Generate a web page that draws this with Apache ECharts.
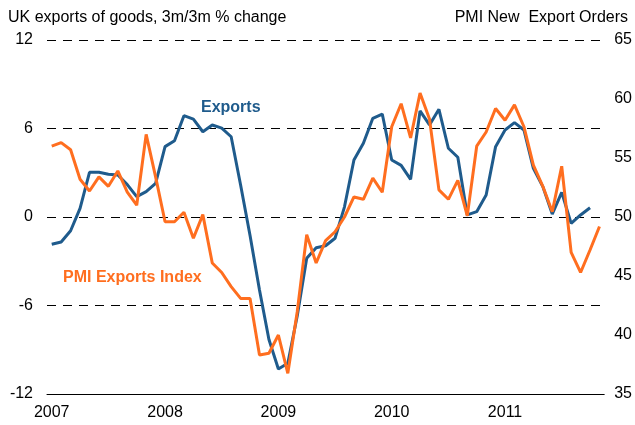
<!DOCTYPE html>
<html>
<head>
<meta charset="utf-8">
<script src="https://cdn.jsdelivr.net/npm/echarts@6/dist/echarts.min.js"></script>
<style>
  html, body { margin: 0; padding: 0; background: #fff; }
  #chart { width: 635px; height: 425px; }
</style>
</head>
<body>
<div id="chart"></div>
<script>
// monthly, Jan 2007 .. Nov 2011
const months = [
  '2007-01','2007-02','2007-03','2007-04','2007-05','2007-06','2007-07','2007-08','2007-09','2007-10','2007-11','2007-12',
  '2008-01','2008-02','2008-03','2008-04','2008-05','2008-06','2008-07','2008-08','2008-09','2008-10','2008-11','2008-12',
  '2009-01','2009-02','2009-03','2009-04','2009-05','2009-06','2009-07','2009-08','2009-09','2009-10','2009-11','2009-12',
  '2010-01','2010-02','2010-03','2010-04','2010-05','2010-06','2010-07','2010-08','2010-09','2010-10','2010-11','2010-12',
  '2011-01','2011-02','2011-03','2011-04','2011-05','2011-06','2011-07','2011-08','2011-09','2011-10','2011-11'
];

// UK exports of goods, 3m/3m % change (left axis)
const exportsGoods = [
  -1.85, -1.7, -0.93, 0.59, 3.03, 3.03, 2.9, 2.85, 2.2, 1.38, 1.72, 2.28,
  4.77, 5.17, 6.87, 6.64, 5.78, 6.24, 6.03, 5.44, 2.17, -1.25, -4.95, -8.3,
  -10.3, -9.92, -6.7, -2.8, -2.08, -1.95, -1.44, 0.69, 3.86, 5.0, 6.69, 6.98,
  3.86, 3.5, 2.55, 7.19, 6.24, 7.3, 4.66, 4.05, 0.14, 0.36, 1.49, 4.77,
  5.9, 6.4, 5.9, 3.3, 2.06, 0.2, 1.67, -0.43, 0.14, 0.63, null
];

// PMI new export orders (right axis)
const pmiExports = [
  56.0, 56.3, 55.7, 53.2, 52.2, 53.4, 52.6, 53.9, 52.1, 51.0, 57.0, 53.4,
  49.6, 49.6, 50.4, 48.2, 50.2, 46.1, 45.3, 44.1, 43.1, 43.1, 38.3, 38.45,
  40.0, 36.75, 42.0, 48.5, 46.1, 48.0, 48.75, 50.0, 51.7, 51.5, 53.3, 52.1,
  57.65, 59.6, 56.7, 60.5, 58.3, 52.3, 51.5, 53.1, 50.1, 56.0, 57.2, 59.2,
  58.2, 59.5, 57.65, 54.4, 52.6, 50.45, 54.3, 47.0, 45.3, 47.2, 49.2
];

const FONT = '"Liberation Sans", Arial, sans-serif';
const BLUE = '#1f5b8c';
const ORANGE = '#ff6e1f';

let option = {
  animation: false,
  backgroundColor: '#fff',
  grid: {
    left: 47,
    right: 30,
    top: 40,
    bottom: 31
  },
  xAxis: {
    type: 'category',
    data: months,
    boundaryGap: true,
    axisLine: { onZero: false, lineStyle: { color: '#000', width: 1 } },
    axisTick: { interval: 11, length: 4, lineStyle: { color: '#000' } },
    axisLabel: {
      interval: 11,
      margin: 11,
      color: '#000',
      fontSize: 16,
      fontFamily: FONT,
      formatter: v => v.slice(0, 4)
    },
    splitLine: { show: false }
  },
  yAxis: [
    {
      type: 'value',
      min: -12,
      max: 12,
      interval: 6,
      axisLine: { show: false },
      axisTick: { show: false },
      axisLabel: { color: '#000', fontSize: 16, fontFamily: FONT, margin: 14 },
      splitLine: { lineStyle: { color: '#000', width: 1, type: [9, 7] } }
    },
    {
      type: 'value',
      min: 35,
      max: 65,
      interval: 5,
      axisLine: { show: false },
      axisTick: { show: false },
      axisLabel: { color: '#000', fontSize: 16, fontFamily: FONT, margin: 10 },
      splitLine: { show: false }
    }
  ],
  graphic: [
    { type: 'text', left: 8, top: 10,
      style: { text: 'UK exports of goods, 3m/3m % change', fill: '#000', font: '16px ' + FONT } },
    { type: 'text', right: 7, top: 10,
      style: { text: 'PMI New  Export Orders', fill: '#000', font: '16px ' + FONT } },
    { type: 'text', left: 201, top: 100,
      style: { text: 'Exports', fill: BLUE, font: 'bold 16px ' + FONT } },
    { type: 'text', left: 63, top: 270,
      style: { text: 'PMI Exports Index', fill: ORANGE, font: 'bold 16px ' + FONT } }
  ],
  series: [
    {
      name: 'Exports',
      type: 'line',
      yAxisIndex: 0,
      data: exportsGoods,
      showSymbol: false,
      lineStyle: { color: BLUE, width: 3 },
      itemStyle: { color: BLUE }
    },
    {
      name: 'PMI Exports Index',
      type: 'line',
      yAxisIndex: 1,
      data: pmiExports,
      showSymbol: false,
      lineStyle: { color: ORANGE, width: 3 },
      itemStyle: { color: ORANGE }
    }
  ]
};

let myChart = echarts.init(document.querySelector('#chart'));
myChart.setOption(option);
</script>
</body>
</html>
